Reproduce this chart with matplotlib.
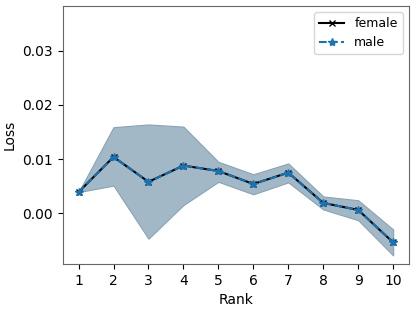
import matplotlib
matplotlib.use('Agg')
import matplotlib.pyplot as plt
import numpy as np

rank = np.arange(1, 11)
female = [0.0039, 0.0104, 0.0058, 0.0088, 0.0078, 0.0054, 0.0075, 0.0019, 0.0006, -0.0054]
male = [0.0039, 0.0104, 0.0058, 0.0088, 0.0078, 0.0054, 0.0075, 0.0019, 0.0006, -0.0054]
upper = [0.0039, 0.0159, 0.0164, 0.0160, 0.0095, 0.0072, 0.0092, 0.0031, 0.0024, -0.0030]
lower = [0.0039, 0.0051, -0.0047, 0.0015, 0.0058, 0.0035, 0.0057, 0.0007, -0.0013, -0.0078]

plt.rcParams['font.size'] = 10
fig, ax = plt.subplots(figsize=(4.16, 3.10), dpi=100)

ax.fill_between(rank, lower, upper, color='#a3b8c6', edgecolor='#8aa3b4', linewidth=0.8)
ax.plot(rank, female, color='black', marker='x', markersize=5, label='female')
ax.plot(rank, male, color='#1a72b0', linestyle='--', marker='*', markersize=6, label='male')

ax.set_xticks(rank)
ax.set_yticks([0.0, 0.01, 0.02, 0.03])
ax.set_ylim(-0.0094, 0.0383)
ax.set_xlabel('Rank')
ax.set_ylabel('Loss')
for s in ax.spines.values():
    s.set_color('#666666')
ax.legend(loc='upper right', fontsize=9)

plt.subplots_adjust(left=0.151, right=0.983, top=0.981, bottom=0.148)
plt.savefig('out.png')
